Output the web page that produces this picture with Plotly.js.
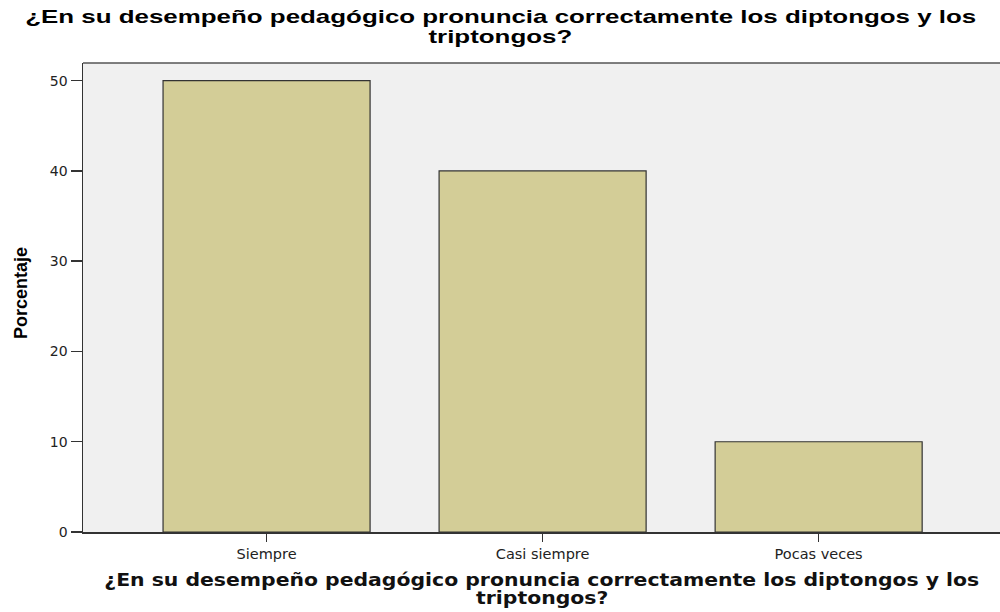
<!DOCTYPE html>
<html>
<head>
<meta charset="utf-8">
<script src="https://cdn.plot.ly/plotly-3.0.1.min.js"></script>
<style>
html,body{margin:0;padding:0;background:#fff;}
#chart{width:1000px;height:612px;}
.annotation[data-index="0"] text, .annotation[data-index="1"] text {
  transform-box: fill-box; transform-origin: center; transform: scaleX(1.40);
}
.annotation[data-index="2"] text, .annotation[data-index="3"] text {
  transform-box: fill-box; transform-origin: center; transform: scaleX(1.2);
}
</style>
</head>
<body>
<div id="chart"></div>
<script>
const categories = ["Siempre", "Casi siempre", "Pocas veces"];
const percentages = [50, 40, 10];
const yTicks = [0, 10, 20, 30, 40, 50];
const titleLine1 = "¿En su desempeño pedagógico pronuncia correctamente los diptongos y los";
const titleLine2 = "triptongos?";
const yTitle = "Porcentaje";

const W = 1000, H = 612;
const M = {l: 83, r: 0, t: 63, b: 80};
const plotH = H - M.t - M.b;
const plotW = W - M.l - M.r;
const py = px => (H - M.b - px) / plotH;
const pxX = px => (px - M.l) / plotW;

const trace = {
  type: "bar",
  x: categories,
  y: percentages,
  width: 0.75,
  marker: {color: "#D3CD97", line: {color: "#333333", width: 1.2}},
  hoverinfo: "x+y"
};

const topFont = {family: "Liberation Sans, Arial", size: 18.5, color: "#000", weight: "bold"};
const botFont = {family: "DejaVu Sans, Verdana", size: 17, color: "#111", weight: "bold"};

const layout = {
  width: W, height: H,
  margin: M,
  paper_bgcolor: "#ffffff",
  plot_bgcolor: "#F0F0F0",
  showlegend: false,
  xaxis: {
    type: "category",
    range: [-0.665, 2.657],
    showline: true, linecolor: "#333333", linewidth: 1.5, mirror: false,
    ticks: "outside", ticklen: 8, tickcolor: "#333333", tickwidth: 1.5,
    tickfont: {family: "DejaVu Sans, Verdana", size: 14.5, color: "#222"},
    showgrid: false, zeroline: false
  },
  yaxis: {
    range: [0, 51.96],
    tickvals: yTicks,
    showline: true, linecolor: "#333333", linewidth: 1.5, mirror: false,
    ticks: "outside", ticklen: 11, tickcolor: "#333333", tickwidth: 1.5,
    tickfont: {family: "DejaVu Sans, Verdana", size: 14, color: "#222"},
    showgrid: false, zeroline: false
  },
  annotations: [
    {text: titleLine1, xref: "paper", yref: "paper", x: pxX(500), y: py(16.5), xanchor: "center", yanchor: "middle", showarrow: false, font: topFont},
    {text: titleLine2, xref: "paper", yref: "paper", x: pxX(500), y: py(37), xanchor: "center", yanchor: "middle", showarrow: false, font: topFont},
    {text: titleLine1, xref: "paper", yref: "paper", x: pxX(542), y: py(579.5), xanchor: "center", yanchor: "middle", showarrow: false, font: botFont},
    {text: titleLine2, xref: "paper", yref: "paper", x: pxX(542), y: py(597.5), xanchor: "center", yanchor: "middle", showarrow: false, font: botFont},
    {text: yTitle, xref: "paper", yref: "paper", x: pxX(21), y: py(293), xanchor: "center", yanchor: "middle", textangle: -90, showarrow: false,
     font: {family: "Liberation Sans Narrow, Liberation Sans, Arial", size: 18, color: "#000", weight: "bold"}}
  ],
  shapes: [
    {type: "line", xref: "paper", yref: "paper", x0: 0, x1: 1, y0: 1, y1: 1, line: {color: "#555555", width: 1.5}}
  ]
};

Plotly.newPlot("chart", [trace], layout, {displayModeBar: false, staticPlot: true});
</script>
</body>
</html>
